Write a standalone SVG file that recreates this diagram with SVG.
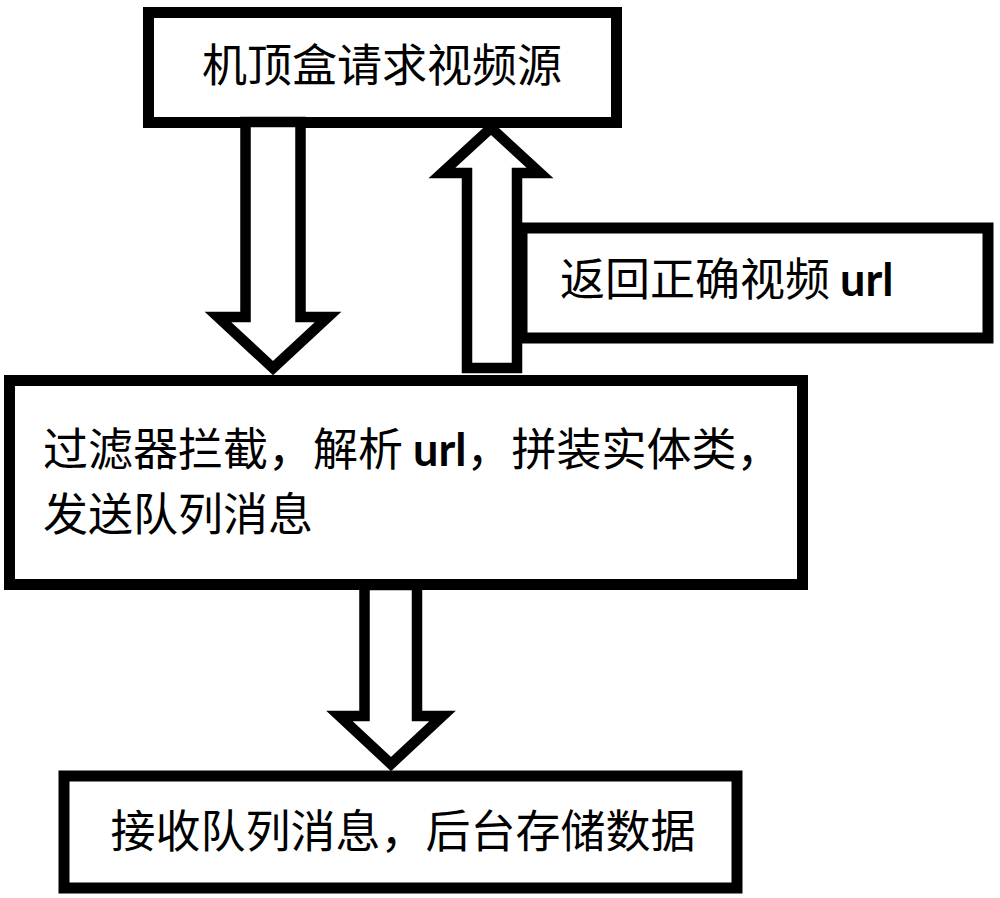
<svg xmlns="http://www.w3.org/2000/svg" width="1000" height="898" viewBox="0 0 1000 898">
  <style>
    .box { fill: #ffffff; stroke: #000000; stroke-width: 11; }
    .arrow { fill: #ffffff; stroke: #000000; stroke-width: 10.5; stroke-linejoin: miter; stroke-miterlimit: 10; }
    .lbl { font-family: "Noto Sans CJK SC", "Noto Sans", sans-serif; font-size: 45px; fill: #000000; }
    .latin { font-family: "Lato", "Liberation Sans", sans-serif; font-weight: bold; }
  </style>
  <rect x="0" y="0" width="1000" height="898" fill="#ffffff"/>
  <g id="node-request">
    <rect class="box" x="148.5" y="12.5" width="468" height="110"/>
    <text class="lbl" x="382" y="82" text-anchor="middle">机顶盒请求视频源</text>
  </g>
  <g id="node-return">
    <rect class="box" x="522" y="228" width="466" height="110" stroke-width="10"/>
    <text class="lbl" x="560" y="296">返回正确视频 <tspan class="latin">url</tspan></text>
  </g>
  <g id="node-filter">
    <rect class="box" x="9.5" y="380.5" width="793" height="204"/>
    <text class="lbl" x="43" y="466">过滤器拦截，解析 <tspan class="latin">url</tspan>，拼装实体类，</text>
    <text class="lbl" x="43" y="531">发送队列消息</text>
  </g>
  <g id="node-store">
    <rect class="box" x="64" y="776" width="673" height="112"/>
    <text class="lbl" x="403" y="848" text-anchor="middle">接收队列消息，后台存储数据</text>
  </g>
  <g id="connectors">
    <polygon class="arrow" points="245.5,122 245.5,317 218,317 273,368 328,317 300.5,317 300.5,122"/>
    <polygon class="arrow" points="467,368 467,173 442,173 491,128 540,173 517,173 517,368"/>
    <polygon class="arrow" points="364.5,585 364.5,716 339.5,716 391,764 442.5,716 417,716 417,585"/>
  </g>
</svg>
